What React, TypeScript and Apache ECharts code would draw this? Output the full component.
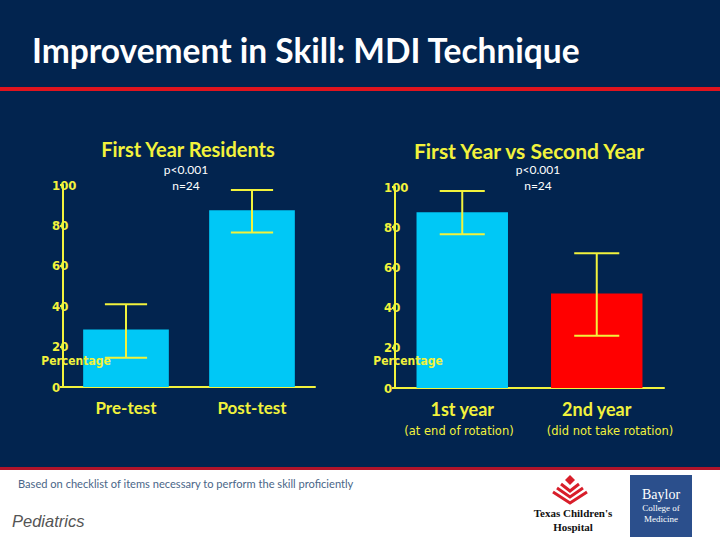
import React, { useEffect, useRef } from "react";
import * as echarts from "echarts";

const chart1Categories = ["Pre-test", "Post-test"];
const chart1Means = [28.5, 87.5];
const chart1Low = [14.5, 76.5];
const chart1High = [41, 97.5];

const chart2Categories = ["1st year", "2nd year"];
const chart2SubLabels = ["(at end of rotation)", "(did not take rotation)"];
const chart2Means = [87.5, 47];
const chart2Low = [76.5, 26];
const chart2High = [98, 67];

const yMin = 0;
const yMax = 100;
const yInterval = 20;

const NAVY = "#02244f";
const YELLOW = "#f2f23c";
const CYAN = "#00c8f6";
const RED = "#ff0000";
const chart2Colors = [CYAN, RED];

const NARROW = "'Liberation Sans Narrow', 'DejaVu Sans Condensed', sans-serif";
const TITLEF = "Lato, 'Open Sans', sans-serif";

function yAxis(gridIndex: number) {
  return {
    type: "value",
    gridIndex,
    min: yMin,
    max: yMax,
    interval: yInterval,
    axisLine: { show: true, lineStyle: { color: YELLOW, width: 2 } },
    axisTick: { show: true, length: 3, lineStyle: { color: YELLOW, width: 2 } },
    splitLine: { show: false },
    axisLabel: {
      color: YELLOW,
      fontFamily: NARROW,
      fontWeight: "bold",
      fontSize: 13,
      margin: 11,
      align: "left",
    },
  };
}

function xAxis(gridIndex: number, data: string[], size: number) {
  return {
    type: "category",
    gridIndex,
    data,
    axisLine: { show: true, lineStyle: { color: YELLOW, width: 2 } },
    axisTick: { show: false },
    axisLabel: {
      color: YELLOW,
      fontFamily: TITLEF,
      fontWeight: "bold",
      fontSize: size,
      margin: 12,
    },
  };
}

function errorRender(params: any, api: any) {
  const i = api.value(0);
  const lo = api.coord([i, api.value(1)]);
  const hi = api.coord([i, api.value(2)]);
  const half = (api.size([1, 0])[0] * 0.335) / 2;
  const style = { stroke: YELLOW, lineWidth: 2 };
  return {
    type: "group",
    children: [
      { type: "line", shape: { x1: hi[0], y1: hi[1], x2: lo[0], y2: lo[1] }, style },
      { type: "line", shape: { x1: hi[0] - half, y1: hi[1], x2: hi[0] + half, y2: hi[1] }, style },
      { type: "line", shape: { x1: lo[0] - half, y1: lo[1], x2: lo[0] + half, y2: lo[1] }, style },
    ],
  };
}

function txt(x: number, y: number, text: string, s: any) {
  return {
    type: "text",
    x,
    y,
    z: 100,
    style: { text, align: "center", verticalAlign: "middle", ...s },
  };
}

export default function App() {
  const ref = useRef<HTMLDivElement>(null);
  useEffect(() => {
    if (!ref.current) return;
    const chart = echarts.init(ref.current, null, { renderer: "svg" });
    const white = { fill: "#ffffff", fontFamily: TITLEF, fontSize: 12 };
    const option = {
      animation: false,
      backgroundColor: NAVY,
      grid: [
        { left: 63, width: 252, top: 185, height: 202, containLabel: false, outerBoundsMode: "none" },
        { left: 395, width: 269, top: 187, height: 201, containLabel: false, outerBoundsMode: "none" },
      ],
      xAxis: [xAxis(0, chart1Categories, 17), xAxis(1, chart2Categories, 18)],
      yAxis: [yAxis(0), yAxis(1)],
      series: [
        {
          type: "bar",
          xAxisIndex: 0,
          yAxisIndex: 0,
          barWidth: "68%",
          data: chart1Means,
          itemStyle: { color: CYAN },
        },
        {
          type: "bar",
          xAxisIndex: 1,
          yAxisIndex: 1,
          barWidth: "68%",
          data: chart2Means.map((v, i) => ({ value: v, itemStyle: { color: chart2Colors[i] } })),
        },
        {
          type: "custom",
          xAxisIndex: 0,
          yAxisIndex: 0,
          z: 5,
          renderItem: errorRender,
          encode: { x: 0, y: [1, 2] },
          data: chart1Categories.map((c, i) => [i, chart1Low[i], chart1High[i]]),
        },
        {
          type: "custom",
          xAxisIndex: 1,
          yAxisIndex: 1,
          z: 5,
          renderItem: errorRender,
          encode: { x: 0, y: [1, 2] },
          data: chart2Categories.map((c, i) => [i, chart2Low[i], chart2High[i]]),
        },
      ],
      graphic: [
        // header
        txt(32, 50, "Improvement in Skill: MDI Technique", {
          align: "left",
          fill: "#ffffff",
          fontFamily: TITLEF,
          fontWeight: "bold",
          fontSize: 33.5,
        }),
        { type: "rect", shape: { x: 0, y: 87, width: 720, height: 4 }, style: { fill: "#e0141e" } },
        // footer
        { type: "rect", shape: { x: 0, y: 467, width: 720, height: 3 }, style: { fill: "#b0142a" } },
        { type: "rect", shape: { x: 0, y: 470, width: 720, height: 70 }, style: { fill: "#ffffff" } },
        txt(18, 483, "Based on checklist of items necessary to perform the skill proficiently", {
          align: "left",
          fill: "#4a6688",
          fontFamily: TITLEF,
          fontSize: 11.1,
        }),
        txt(12, 521, "Pediatrics", {
          align: "left",
          fill: "#555555",
          fontFamily: "'Liberation Sans', sans-serif",
          fontStyle: "italic",
          fontSize: 16.5,
        }),
        // Texas Children's logo
        { type: "polygon", shape: { points: [[570, 475], [575, 480], [570, 485], [565, 480]] }, style: { fill: "#d81e2a" } },
        { type: "polyline", shape: { points: [[561, 484], [570, 491], [579, 484]] }, style: { stroke: "#d81e2a", lineWidth: 3, fill: "none" } },
        { type: "polyline", shape: { points: [[557, 488], [570, 497], [583, 488]] }, style: { stroke: "#d81e2a", lineWidth: 3, fill: "none" } },
        { type: "polyline", shape: { points: [[553, 492], [570, 503], [587, 492]] }, style: { stroke: "#d81e2a", lineWidth: 3, fill: "none" } },
        txt(573, 513, "Texas Children's", {
          fill: "#111111",
          fontFamily: "'Liberation Serif', serif",
          fontWeight: "bold",
          fontSize: 11,
        }),
        txt(573, 527, "Hospital", {
          fill: "#111111",
          fontFamily: "'Liberation Serif', serif",
          fontWeight: "bold",
          fontSize: 11,
        }),
        // Baylor logo
        { type: "rect", shape: { x: 630, y: 475, width: 62, height: 62 }, style: { fill: "#2b4f8c" } },
        txt(661, 494, "Baylor", { fill: "#ffffff", fontFamily: "'Liberation Serif', serif", fontSize: 14 }),
        txt(661, 508, "College of", { fill: "#ffffff", fontFamily: "'Liberation Serif', serif", fontSize: 9 }),
        txt(661, 519, "Medicine", { fill: "#ffffff", fontFamily: "'Liberation Serif', serif", fontSize: 9 }),
        // chart 1 texts
        txt(188, 149, "First Year Residents", {
          fill: YELLOW,
          fontFamily: TITLEF,
          fontWeight: "bold",
          fontSize: 20,
        }),
        txt(186, 169, "p<0.001", white),
        txt(186, 185, "n=24", white),
        txt(76, 361, "Percentage", {
          fill: YELLOW,
          fontFamily: NARROW,
          fontWeight: "bold",
          fontSize: 12,
        }),
        // chart 2 texts
        txt(529, 150, "First Year vs Second Year", {
          fill: YELLOW,
          fontFamily: TITLEF,
          fontWeight: "bold",
          fontSize: 21,
        }),
        txt(538, 169, "p<0.001", white),
        txt(538, 185, "n=24", white),
        txt(408, 361, "Percentage", {
          fill: YELLOW,
          fontFamily: NARROW,
          fontWeight: "bold",
          fontSize: 12,
        }),
        txt(459, 431, chart2SubLabels[0], { fill: YELLOW, fontFamily: "'DejaVu Sans', sans-serif", fontSize: 11.5 }),
        txt(610, 431, chart2SubLabels[1], { fill: YELLOW, fontFamily: "'DejaVu Sans', sans-serif", fontSize: 11.5 }),
      ],
    };
    chart.setOption(option as any);
    return () => chart.dispose();
  }, []);
  return (
    <div
      ref={ref}
      style={{ position: "absolute", left: 0, top: 0, width: 720, height: 540 }}
    />
  );
}
